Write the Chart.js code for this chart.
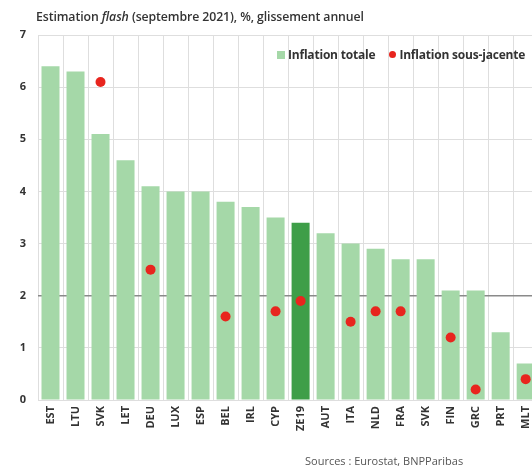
<!DOCTYPE html>
<html>
<head>
<meta charset="utf-8">
<script src="https://cdn.jsdelivr.net/npm/chart.js@4"></script>
<style>
  html, body { margin: 0; padding: 0; background: #fff; overflow: hidden; }
  body { width: 532px; height: 470px; position: relative; font-family: "Open Sans", sans-serif; }
  #wrap { position: absolute; left: 0; top: 0; width: 545px; height: 470px; }
  #titre { position: absolute; left: 36px; top: 8px; font-size: 12.3px; color: #333; font-weight: 600; white-space: nowrap; letter-spacing: -0.1px; }
  #source { position: absolute; left: 305px; top: 453px; font-size: 11px; color: #555; white-space: nowrap; }
  #legende { position: absolute; left: 277px; top: 46px; font-size: 12px; font-weight: bold; color: #333; white-space: nowrap; display: flex; align-items: center; letter-spacing: -0.2px; }
  #legende .carre { display: inline-block; width: 8px; height: 8px; background: #a5d8a8; margin-right: 3px; }
  #legende .rond { display: inline-block; width: 7px; height: 7px; border-radius: 50%; background: #e8251e; margin-left: 14px; margin-right: 3px; }
</style>
</head>
<body>
<div id="wrap"><canvas id="inflationChart" width="545" height="470"></canvas></div>
<div id="titre">Estimation <i>flash</i> (septembre 2021), %, glissement annuel</div>
<div id="legende"><span class="carre"></span>Inflation totale<span class="rond"></span>Inflation sous-jacente</div>
<div id="source">Sources : Eurostat, BNPParibas</div>
<script>
const pays = ["EST", "LTU", "SVK", "LET", "DEU", "LUX", "ESP", "BEL", "IRL", "CYP",
  "ZE19", "AUT", "ITA", "NLD", "FRA", "SVK", "FIN", "GRC", "PRT", "MLT"];
const inflationTotale = [6.4, 6.3, 5.1, 4.6, 4.1, 4.0, 4.0, 3.8, 3.7, 3.5,
  3.4, 3.2, 3.0, 2.9, 2.7, 2.7, 2.1, 2.1, 1.3, 0.7];
const inflationSousJacente = [null, null, 6.1, null, 2.5, null, null, 1.6, null, 1.7,
  1.9, null, 1.5, 1.7, 1.7, null, 1.2, 0.2, null, 0.4];
const yTicks = [0, 1, 2, 3, 4, 5, 6, 7];

const vertClair = "#a5d8a8";
const vertFonce = "#3e9e48";
const rouge = "#e8251e";

const ctx = document.getElementById("inflationChart");

new Chart(ctx, {
  type: "bar",
  data: {
    labels: pays,
    datasets: [
      {
        label: "Inflation totale",
        data: inflationTotale,
        backgroundColor: pays.map((p) => (p === "ZE19" ? vertFonce : vertClair)),
        barPercentage: 0.72,
        categoryPercentage: 1,
        order: 2,
      },
      {
        type: "line",
        label: "Inflation sous-jacente",
        data: inflationSousJacente,
        showLine: false,
        pointRadius: 5,
        pointHoverRadius: 5,
        pointBackgroundColor: rouge,
        pointBorderWidth: 0,
        order: 1,
      },
    ],
  },
  options: {
    responsive: false,
    animation: false,
    layout: { padding: { top: 35, right: 5, bottom: 20, left: 0 } },
    plugins: {
      title: { display: false },
      tooltip: { enabled: false },
      legend: { display: false },
    },
    scales: {
      x: {
        grid: { color: "#dedede", drawTicks: false },
        border: { display: false },
        ticks: {
          color: "#333",
          font: { family: "Open Sans", size: 11, weight: "bold" },
          minRotation: 90,
          maxRotation: 90,
          padding: 6,
        },
        afterFit: (scale) => { scale.height = 50; },
      },
      y: {
        min: 0,
        max: 7,
        afterBuildTicks: (scale) => { scale.ticks = yTicks.map((v) => ({ value: v })); },
        grid: {
          color: (c) => (c.tick && c.tick.value === 2 ? "#8a8a8a" : "#dedede"),
          lineWidth: (c) => (c.tick && c.tick.value === 2 ? 1.5 : 1),
          drawTicks: false,
        },
        border: { display: false },
        ticks: {
          color: "#333",
          font: { family: "Open Sans", size: 11, weight: "bold" },
          padding: 12,
        },
        afterFit: (scale) => { scale.width = 38; },
      },
    },
  },
});
</script>
</body>
</html>
